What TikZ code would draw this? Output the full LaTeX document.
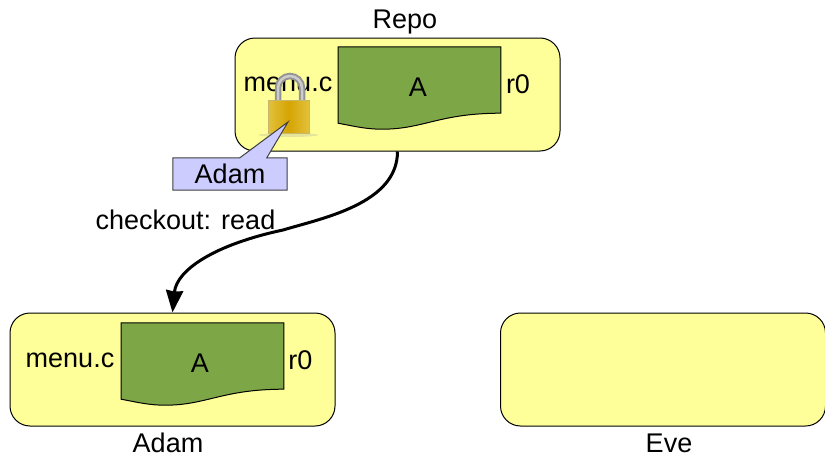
\documentclass[tikz,border=0pt]{standalone}
\usepackage{fontspec}
\setmainfont{Liberation Sans}
\usetikzlibrary{arrows.meta}

\definecolor{boxyellow}{HTML}{FFFF99}
\definecolor{sheetgreen}{HTML}{7DA647}
\definecolor{taglilac}{HTML}{CCCCFF}
\definecolor{lockedge}{HTML}{E2C23C}
\definecolor{lockmid}{HTML}{D6A404}
\definecolor{lockrim}{HTML}{C9B66E}

% wavy sheet drawn round an empty node
\newcommand{\sheetoutline}[1]{
	\draw[sheetline] (#1.north west) -- (#1.north east) -- (#1.south east)
		.. controls +(-62,0) and +(42,0) .. ([xshift=-119pt,yshift=-16pt]#1.south east)
		.. controls +(-16,0) and +(16,3) .. ([yshift=-10pt]#1.south west) -- cycle;
}

\begin{document}
\begin{tikzpicture}[x=1pt,y=-1pt,
	font=\fontsize{27}{30}\selectfont,
	main/.style = {draw, rounded corners=20pt, fill=boxyellow, minimum width=325pt, minimum height=113pt, inner sep=0pt, line width=1pt},
	sheet/.style = {minimum width=162.5pt, minimum height=66pt, inner sep=0pt},
	sheetline/.style = {draw, fill=sheetgreen, line width=1pt},
	lbl/.style = {inner sep=0pt},
	tag/.style = {minimum width=114pt, minimum height=32pt, inner sep=0pt},
	tagline/.style = {draw=black!75, fill=taglilac, line width=1pt},
	link/.style = {line width=3pt, -{Stealth[length=22pt,width=17pt,inset=1pt]}}]
	\useasboundingbox (0,0) rectangle (825,455);
	\node[main] (repo) at (397.5,94.5) {};
	\node[main] (adam) [below of=repo,node distance=275pt,xshift=-225pt] {};
	\node[main] (eve) [right of=adam,node distance=490.5pt] {};
	\node[lbl] (repolbl) [above of=repo,node distance=72.5pt,xshift=7.5pt] {Repo};
	\node[lbl] (adamlbl) [below of=adam,node distance=73.5pt,xshift=-4.5pt] {Adam};
	\node[lbl] (evelbl) [below of=eve,node distance=73.5pt,xshift=6pt] {Eve};
	% repo contents
	\node[lbl] (repofile) [left of=repo,node distance=109.5pt,yshift=10pt] {menu.c};
	\node[sheet] (repodoc) [right of=repo,node distance=22pt,yshift=14.5pt] {};
	\sheetoutline{repodoc}
	\node[lbl] (repotxt) [right of=repo,node distance=20.5pt,yshift=7.5pt] {A};
	\node[lbl] (reporev) [right of=repo,node distance=120.5pt,yshift=10pt] {r0};
	% adam contents
	\node[lbl] (adamfile) [left of=adam,node distance=102.5pt,yshift=9pt] {menu.c};
	\node[sheet] (adamdoc) [right of=adam,node distance=30pt,yshift=13.5pt] {};
	\sheetoutline{adamdoc}
	\node[lbl] (adamtxt) [right of=adam,node distance=27.5pt,yshift=6pt] {A};
	\node[lbl] (adamrev) [right of=adam,node distance=128pt,yshift=9pt] {r0};
	% padlock
	\fill[black!40, opacity=.25] (288.5,135) ellipse (30 and 2);
	\draw[black!42, line width=6.5pt] (278,101) -- (278,88) arc[start angle=180, end angle=360, x radius=12, y radius=12] -- (302,101);
	\draw[black!20, line width=2.5pt] (278,100) -- (278,88) arc[start angle=180, end angle=360, x radius=12, y radius=12] -- (302,100);
	\shade[left color=lockedge, right color=lockedge, middle color=lockmid, draw=lockrim] (268,100) rectangle (309.5,133);
	% owner tag
	\node[tag] (tag) at (230,174) {};
	\draw[tagline] (tag.north west) -- ([xshift=67pt]tag.north west) -- (288,122) -- ([xshift=94pt]tag.north west) -- (tag.north east) -- (tag.south east) -- (tag.south west) -- cycle;
	\node[lbl] (tagtxt) [right of=tag,node distance=0pt] {Adam};
	% checkout
	\node[lbl] (chk) at (185.5,220) {checkout: read};
	\draw[link] (repo.south) .. controls +(0,52) and +(40,-12) .. (283,230) .. controls +(-70,15) and +(4,-42) .. (adam.north);
\end{tikzpicture}
\end{document}
